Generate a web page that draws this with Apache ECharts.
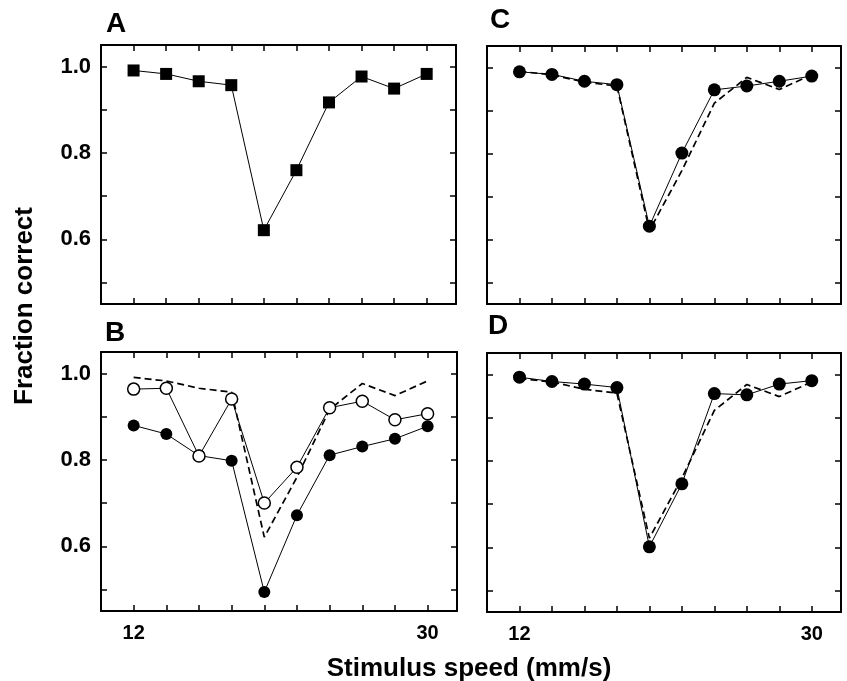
<!DOCTYPE html>
<head>
    <title>ECharts</title>
    <meta charset="UTF-8">
    <style>
        html, body { margin: 0; padding: 0; background: #fff; }
    </style>
</head>
<body>
    <div id="main" style="width:847px;height:681px;"></div>

    <script src="https://cdn.jsdelivr.net/npm/echarts@6/dist/echarts.min.js" charset="UTF-8"></script>
    <script type="text/javascript">
    // stimulus speeds (mm/s)
    var speeds = [12, 14, 16, 18, 20, 22, 24, 26, 28, 30];
    // panel A: squares (also the dashed reference curve in B, C, D)
    var panelA = [0.991, 0.983, 0.966, 0.957, 0.621, 0.760, 0.917, 0.977, 0.949, 0.983];
    // panel B
    var panelBOpen = [0.964, 0.966, 0.809, 0.941, 0.700, 0.783, 0.921, 0.936, 0.893, 0.907];
    var panelBFilled = [0.880, 0.860, 0.810, 0.798, 0.494, 0.672, 0.811, 0.831, 0.849, 0.878];
    // panel C, D
    var panelC = [0.990, 0.984, 0.968, 0.960, 0.631, 0.801, 0.948, 0.957, 0.968, 0.980];
    var panelD = [0.994, 0.984, 0.978, 0.970, 0.601, 0.747, 0.956, 0.953, 0.978, 0.986];
    // ticks
    var xTicks = [12, 14, 16, 18, 20, 22, 24, 26, 28, 30];
    var xLabels = [12, 30];
    var yTicks = [0.5, 0.6, 0.7, 0.8, 0.9, 1.0];
    var yLabels = [0.6, 0.8, 1.0];

    var FONT = '"Liberation Sans", Arial, Helvetica, sans-serif';

    function pts(ys) {
        return speeds.map(function (s, i) { return [s, ys[i]]; });
    }

    // A top-left, C top-right, B bottom-left, D bottom-right
    var grids = [
        { left: 101, top: 45, width: 355, height: 259 },
        { left: 487, top: 46, width: 354, height: 258 },
        { left: 101, top: 352, width: 356, height: 259 },
        { left: 487, top: 353, width: 354, height: 259 }
    ];

    var xAxes = [], yAxes = [];
    grids.forEach(function (g, i) {
        var bottomRow = i >= 2, leftCol = (i % 2 === 0);
        [false, true].forEach(function (mirror) {
            xAxes.push({
                type: 'value', gridIndex: i, min: 10, max: 31.8,
                position: mirror ? 'top' : 'bottom',
                axisLine: { show: true, onZero: false, lineStyle: { color: '#000', width: 2 } },
                axisTick: { show: true, inside: true, length: 6, customValues: xTicks, lineStyle: { color: '#000', width: 1.5 } },
                axisLabel: {
                    show: bottomRow && !mirror, customValues: xLabels, margin: 12,
                    color: '#000', fontSize: 20, fontWeight: 'bold', fontFamily: FONT
                },
                splitLine: { show: false }
            });
            yAxes.push({
                type: 'value', gridIndex: i, min: 0.45, max: 1.05,
                position: mirror ? 'right' : 'left',
                axisLine: { show: true, onZero: false, lineStyle: { color: '#000', width: 2 } },
                axisTick: { show: true, inside: true, length: 6, customValues: yTicks, lineStyle: { color: '#000', width: 1.5 } },
                axisLabel: {
                    show: leftCol && !mirror, customValues: yLabels, margin: 10,
                    color: '#000', fontSize: 22, fontWeight: 'bold', fontFamily: FONT,
                    formatter: function (v) { return v.toFixed(1); }
                },
                splitLine: { show: false }
            });
        });
    });

    function dashed(gi) {
        return {
            type: 'line', xAxisIndex: gi * 2, yAxisIndex: gi * 2, data: pts(panelA),
            showSymbol: false, symbol: 'none', silent: true,
            lineStyle: { color: '#000', width: 1.7, type: [7, 4] }
        };
    }
    function solid(gi, ys, symbol, size, fill) {
        return {
            type: 'line', xAxisIndex: gi * 2, yAxisIndex: gi * 2, data: pts(ys),
            symbol: symbol, symbolSize: size, showAllSymbol: true,
            lineStyle: { color: '#000', width: 1 },
            itemStyle: { color: fill, borderColor: '#000', borderWidth: fill === '#fff' ? 1.5 : 0 }
        };
    }

    var series = [
        solid(0, panelA, 'rect', 12, '#000'),
        dashed(1),
        solid(1, panelC, 'circle', 13, '#000'),
        dashed(2),
        solid(2, panelBFilled, 'circle', 12, '#000'),
        solid(2, panelBOpen, 'circle', 12, '#fff'),
        dashed(3),
        solid(3, panelD, 'circle', 13, '#000')
    ];

    function label(text, x, y, size) {
        return {
            type: 'text', x: x, y: y,
            style: { text: text, fill: '#000', font: 'bold ' + size + 'px ' + FONT, align: 'left', verticalAlign: 'middle' }
        };
    }

    var graphics = [
        label('A', 106, 24, 28),
        label('C', 490, 20, 28),
        label('B', 105, 333, 28),
        label('D', 488, 326, 28),
        { type: 'text', x: 469, y: 669,
          style: { text: 'Stimulus speed (mm/s)', fill: '#000', font: 'bold 26px ' + FONT, align: 'center', verticalAlign: 'middle' } },
        { type: 'text', x: 25, y: 306, rotation: Math.PI / 2,
          style: { text: 'Fraction correct', fill: '#000', font: 'bold 26px ' + FONT, align: 'center', verticalAlign: 'middle' } }
    ];

    var myChart = echarts.init(document.getElementById('main'));
    myChart.setOption({
        animation: false,
        backgroundColor: '#fff',
        grid: grids,
        xAxis: xAxes,
        yAxis: yAxes,
        series: series,
        graphic: graphics
    });
    </script>
</body>
